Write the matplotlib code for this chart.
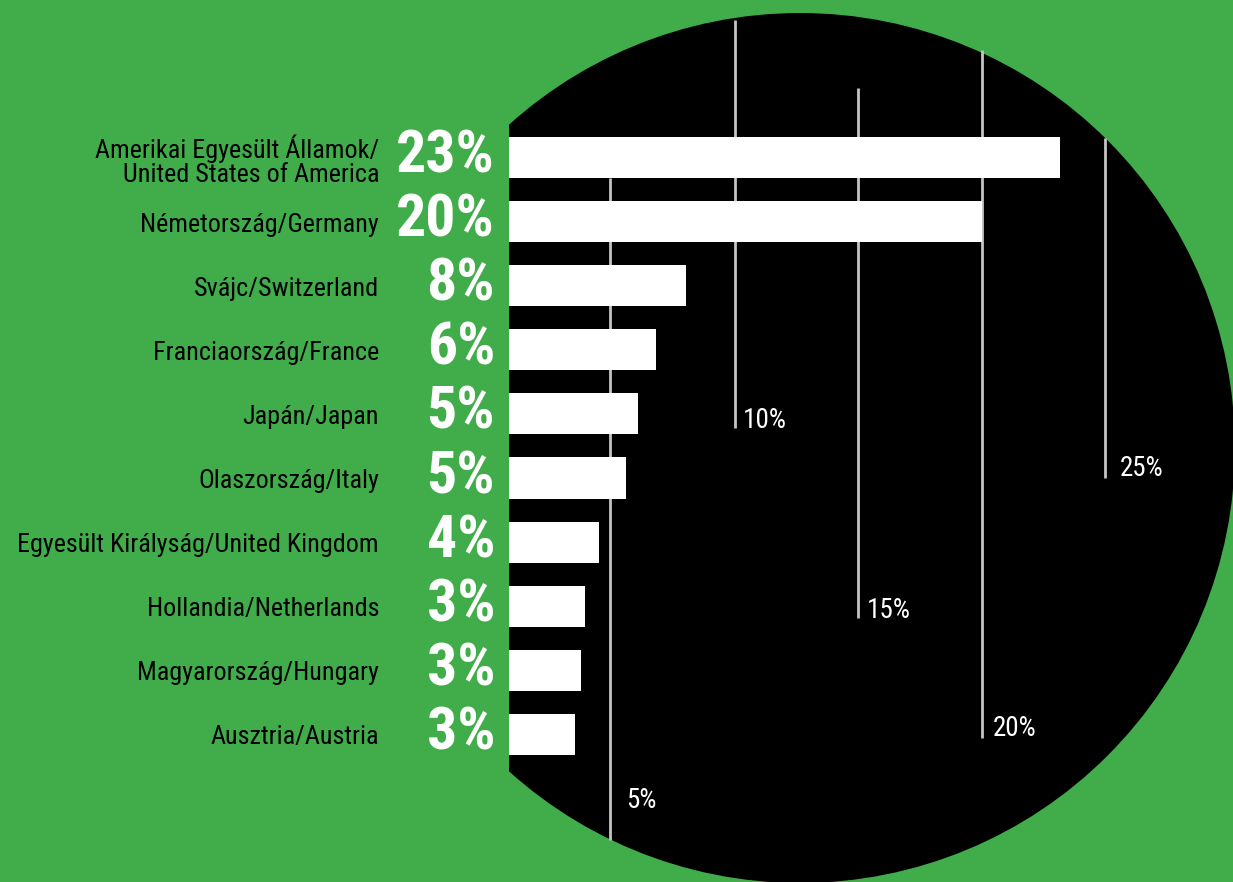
import matplotlib
matplotlib.use("Agg")
import matplotlib.pyplot as plt
from matplotlib.patches import Circle, Rectangle

# ---- data ----
countries = [
    "Amerikai Egyesült Államok/\nUnited States of America",
    "Németország/Germany",
    "Svájc/Switzerland",
    "Franciaország/France",
    "Japán/Japan",
    "Olaszország/Italy",
    "Egyesült Királyság/United Kingdom",
    "Hollandia/Netherlands",
    "Magyarország/Hungary",
    "Ausztria/Austria",
]
shares = [23.3, 20.0, 7.5, 6.2, 5.45, 4.95, 3.8, 3.2, 3.05, 2.8]
share_labels = ["23%", "20%", "8%", "6%", "5%", "5%", "4%", "3%", "3%", "3%"]

guide_labels = ["5%", "10%", "15%", "20%", "25%"]
guide_x = [610, 735, 858, 982, 1105]        # decorative guides, pixel positions
guide_top = [178, 20, 88, 50, 138]
guide_bottom = [840, 428, 618, 738, 478]
guide_label_x = [626, 743, 867, 993, 1120]
guide_label_y = [800, 420, 610, 728, 468]

GREEN = "#41ad4a"
GUIDE = "#c4c4c4"
FONT = ["Roboto Condensed", "Liberation Sans Narrow", "DejaVu Sans"]

W, H = 1233, 882
x0_px, px_per_pct = 509, 23.65
y0_px, px_per_row = 157.5, 64.1

fig = plt.figure(figsize=(W / 100, H / 100), dpi=100)
fig.patch.set_facecolor(GREEN)

# background layer in pixel units: circle, left cover, guides
bg = fig.add_axes([0, 0, 1, 1])
bg.set_xlim(0, W)
bg.set_ylim(H, 0)
bg.axis("off")
bg.add_patch(Circle((800, 448), 435, facecolor="black", edgecolor="none"))
bg.add_patch(Rectangle((0, 0), x0_px, H, facecolor=GREEN, edgecolor="none"))
bg.vlines(guide_x, guide_top, guide_bottom, colors=GUIDE, linewidth=2)
for lx, ly, lab in zip(guide_label_x, guide_label_y, guide_labels):
    bg.text(lx, ly, lab, color="white", fontsize=19.5, family=FONT, fontstretch="condensed",
            ha="left", va="center")

# bar layer in data units
ax = fig.add_axes([0, 0, 1, 1])
ax.patch.set_alpha(0)
ax.set_xlim(-x0_px / px_per_pct, (W - x0_px) / px_per_pct)
ax.set_ylim((H - y0_px) / px_per_row, -y0_px / px_per_row)
ax.axis("off")

rows = list(range(len(countries)))
ax.barh(rows, shares, height=0.64, color="white", left=0)

for i, (name, lab) in enumerate(zip(countries, share_labels)):
    ax.annotate(lab, xy=(0, i), xytext=(-14, 1), textcoords="offset pixels",
                ha="right", va="center", color="white", fontsize=43,
                fontweight="bold", family=FONT, fontstretch="condensed")
    ax.annotate(name, xy=(0, i), xytext=(-130, -3), textcoords="offset pixels",
                ha="right", va="center", color="black", fontsize=18.8,
                family=FONT, fontstretch="condensed", linespacing=1.0,
                multialignment="right")

fig.savefig("out.png", dpi=100, facecolor=GREEN)
